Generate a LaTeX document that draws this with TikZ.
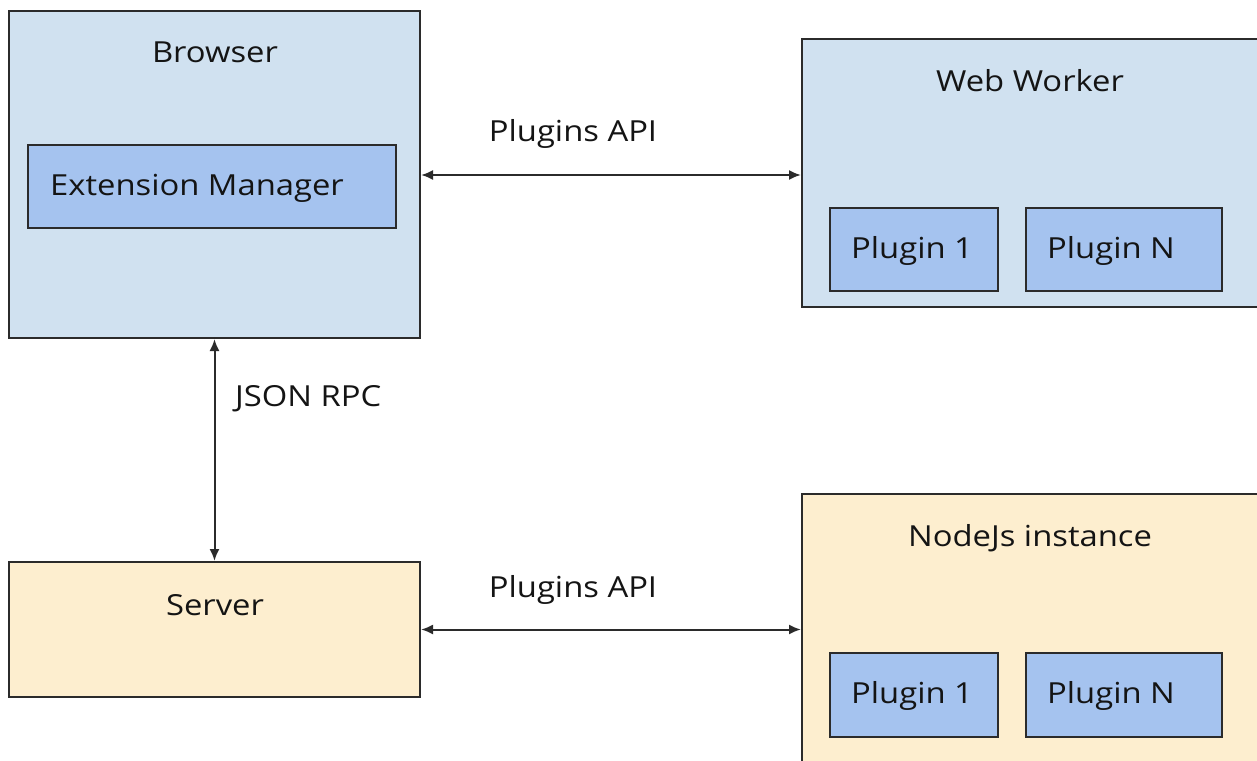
\documentclass[tikz,border=0pt]{standalone}
\usepackage{fontspec}
\setmainfont[FakeStretch=1.13]{Open Sans}
\usetikzlibrary{arrows.meta}
\definecolor{lightblue}{HTML}{D0E1F0}
\definecolor{plugblue}{HTML}{A5C3EF}
\definecolor{beige}{HTML}{FDEECF}
\definecolor{edge}{HTML}{2B2B2B}
\begin{document}
\begin{tikzpicture}[x=1pt,y=-1pt,
  box/.style={draw=edge, line width=2pt, inner sep=0pt, rectangle},
  txt/.style={inner sep=0pt, font=\fontsize{29}{34}\selectfont, text=black!92},
  link/.style={draw=edge, line width=2pt, {Latex[length=12pt,width=10pt]}-{Latex[length=12pt,width=10pt]}}
]
\clip (0,0) rectangle (1257,760);
\fill[white] (0,0) rectangle (1257,760);
% Browser
\node[box, fill=lightblue, minimum width=411pt, minimum height=327pt] (browser) at (214.5,174.5) {};
\node[txt] (browsert) at (215,52) {Browser};
\node[box, fill=plugblue, minimum width=368pt, minimum height=83pt] (ext) at (212,186.5) {};
\node[txt, anchor=west] (extt) at (50,188) {Extension Manager};
% Web Worker
\node[box, fill=lightblue, minimum width=473pt, minimum height=268pt] (ww) at (1038.5,173) {};
\node[txt] (wwt) at (1030,81) {Web Worker};
\node[box, fill=plugblue, minimum width=168pt, minimum height=83pt] (wwp1) at (914,249.5) {};
\node[txt, anchor=west] (wwp1t) at (851,251) {Plugin 1};
\node[box, fill=plugblue, minimum width=196pt, minimum height=83pt] (wwpn) at (1124,249.5) {};
\node[txt, anchor=west] (wwpnt) at (1047,251) {Plugin N};
% Server
\node[box, fill=beige, minimum width=411pt, minimum height=135pt] (server) at (214.5,629.5) {};
\node[txt] (servert) at (215,605) {Server};
% NodeJs
\node[box, fill=beige, minimum width=473pt, minimum height=286pt] (node) at (1038.5,637) {};
\node[txt] (nodet) at (1030,538) {NodeJs instance};
\node[box, fill=plugblue, minimum width=168pt, minimum height=84pt] (np1) at (914,695) {};
\node[txt, anchor=west] (np1t) at (851,696) {Plugin 1};
\node[box, fill=plugblue, minimum width=196pt, minimum height=84pt] (npn) at (1124,695) {};
\node[txt, anchor=west] (npnt) at (1047,696) {Plugin N};
% connectors
\coordinate (a1) at ([yshift=-0.5pt]browser.east);
\draw[link] (a1) -- (a1 -| ww.west);
\node[txt] (api1) at (573,134) {Plugins API};
\draw[link] (server.east) -- (server.east -| node.west);
\node[txt] (api2) at (573,590) {Plugins API};
\draw[link] (browser.south) -- (server.north);
\node[txt, anchor=west] (rpc) at (235,399) {JSON RPC};
\end{tikzpicture}
\end{document}
